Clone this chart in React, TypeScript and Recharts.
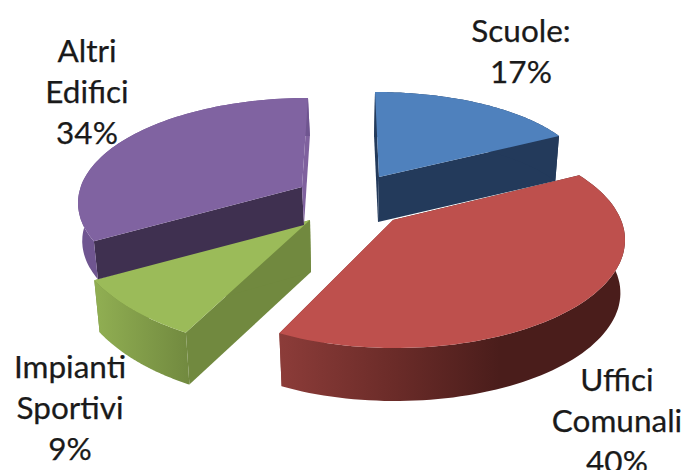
import React from "react";
import { PieChart, Pie, Cell } from "recharts";

const categories = ["Scuole:", "Uffici Comunali", "Impianti Sportivi", "Altri Edifici"];
const shares = [17, 40, 9, 34];
const topColors = ["#4F81BD", "#BE504D", "#9BBB59", "#8063A1"];

const chartData = categories.map((name, i) => ({ name, value: shares[i] }));

// Perspective layout of each slice (the angles always come from the Pie itself)
const slices = [
  { ax: 379, ay: 177, ex: 375, ey: 177, rx: 210, ry: 85, shiftS: 0, shiftE: 0, depth: 45, dxA: -1, k: 0.985, wall: "#233A5B", startFace: "#233A5B", endFace: "#233A5B" },
  { ax: 393, ay: 220, ex: 395, ey: 240, rx: 230, ry: 108, shiftS: -8, shiftE: 5, depth: 53, dxA: 0, k: 0.98, wall: "url(#redWall)", startFace: "#4A1D1B", endFace: "#8A3B38" },
  { ax: 310, ay: 220, ex: 310, ey: 220, rx: 243, ry: 131, shiftS: 5.5, shiftE: 5, depth: 52, dxA: 1, k: 0.98, wall: "url(#greenWall)", startFace: "#71893F", endFace: "#71893F" },
  { ax: 302, ay: 187, ex: 308, ey: 203, rx: 230, ry: 105, shiftS: 11, shiftE: 0, depth: 38, dxA: 2, k: 0.99, wall: "#6F5590", startFace: "#3F3050", endFace: "#7F619E" },
];

const labelAnchors = [
  { x: 521, y: 42 },
  { x: 617, y: 391 },
  { x: 70, y: 378 },
  { x: 87, y: 62 },
];
const LINE_GAP = 41;

function poly(points: number[][]) {
  return "M" + points.map((p) => `${p[0].toFixed(1)},${p[1].toFixed(1)}`).join("L") + "Z";
}

function Slice3D(props: any) {
  const { index, startAngle, endAngle, fill } = props;
  const s = slices[index];
  const from = 90 - startAngle + s.shiftS;
  const to = 90 - endAngle + s.shiftE;
  const steps = 80;
  const arc: number[][] = [];
  for (let i = 0; i <= steps; i++) {
    const t = ((from + ((to - from) * i) / steps) * Math.PI) / 180;
    arc.push([s.ex + s.rx * Math.sin(t), s.ey - s.ry * Math.cos(t)]);
  }
  const low = (p: number[]) => [s.ax + s.dxA + s.k * (p[0] - s.ax), p[1] + s.depth];
  const apex = [s.ax, s.ay];
  const apexLow = low(apex);
  const first = arc[0];
  const last = arc[arc.length - 1];
  return (
    <g>
      <path d={poly([apex, first, low(first), apexLow])} fill={s.startFace} />
      <path d={poly([apex, last, low(last), apexLow])} fill={s.endFace} />
      <path d={poly([...arc, ...arc.map(low).reverse()])} fill={s.wall} />
      <path d={poly([apex, ...arc])} fill={fill} />
    </g>
  );
}

function renderLabel(props: any) {
  const { index, name, value } = props;
  const a = labelAnchors[index];
  const lines = [...String(categories[index] ?? name).split(" "), `${value}%`];
  return (
    <text
      key={index}
      x={a.x}
      y={a.y}
      textAnchor="middle"
      fontFamily="Lato, sans-serif"
      fontSize={31.5}
      fill="#1a1a1a"
      stroke="#1a1a1a"
      strokeWidth={0.25}
    >
      {lines.map((l, i) => (
        <tspan key={i} x={a.x} y={a.y + i * LINE_GAP}>
          {l}
        </tspan>
      ))}
    </text>
  );
}

export default function App() {
  return (
    <div style={{ position: "fixed", left: 0, top: 0, width: 686, height: 470, background: "#fff", overflow: "hidden" }}>
      <PieChart width={686} height={470} margin={{ top: 0, right: 0, bottom: 0, left: 0 }}>
        <defs>
          <linearGradient id="redWall" gradientUnits="userSpaceOnUse" x1="280" y1="0" x2="500" y2="0">
            <stop offset="0" stopColor="#8C3C39" />
            <stop offset="0.5" stopColor="#6C2C29" />
            <stop offset="1" stopColor="#4A1D1B" />
          </linearGradient>
          <linearGradient id="greenWall" gradientUnits="userSpaceOnUse" x1="97" y1="0" x2="190" y2="0">
            <stop offset="0" stopColor="#90AE52" />
            <stop offset="1" stopColor="#71893F" />
          </linearGradient>
        </defs>
        <Pie
          data={chartData}
          dataKey="value"
          nameKey="name"
          cx={343}
          cy={235}
          outerRadius={150}
          startAngle={90}
          endAngle={-270}
          stroke="none"
          isAnimationActive={false}
          shape={Slice3D}
          label={renderLabel}
          labelLine={false}
        >
          {chartData.map((d, i) => (
            <Cell key={d.name} fill={topColors[i]} />
          ))}
        </Pie>
      </PieChart>
    </div>
  );
}
